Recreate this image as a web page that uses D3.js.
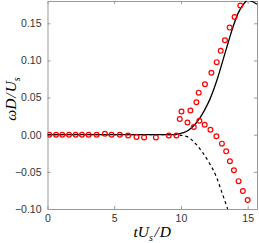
<!DOCTYPE html>
<html>
<head>
<meta charset="utf-8">
<script src="https://cdn.jsdelivr.net/npm/d3@7"></script>
<style>
  body { margin: 0; background: #fff; }
  svg { display: block; }
</style>
</head>
<body>
<div id="chart"></div>
<script>
// values: [t, omega]
const flatPts = [[0.13,0],[0.64,0],[1.11,0],[1.61,0],[2.11,0],[2.58,0],[3.08,0],[3.68,0],
  [4.30,0.0013],[4.80,0],[5.42,0],[6.04,-0.001],[6.67,-0.003],[7.24,-0.0036],[8.12,-0.0036],
  [9.09,-0.001],[9.66,-0.001]];
const upperPts = [[10.04,0.0312],[10.71,0.0325],[11.16,0.0438],[11.33,0.0566],[11.80,0.0679],
  [12.28,0.0834],[12.68,0.0977],[12.98,0.1129],[13.30,0.1272],[13.65,0.1442],[14.02,0.1584],[14.45,0.1740]];
const lowerPts = [[9.91,0.021],[10.49,0.0165],[10.96,0.0103],[11.38,0.0187],[11.78,0.0134],
  [12.21,0.0067],[12.66,-0.002],[13.07,-0.012],[13.39,-0.0224],[13.67,-0.0357],[13.97,-0.0478],
  [14.32,-0.0625],[14.64,-0.0759],[15.0,-0.088]];
const solidLine = [[0,0],[9.5,0],[9.78,0.001],[10.41,0.0044],[10.9,0.011],[11.41,0.0224],
  [11.78,0.0335],[12.15,0.0469],[12.70,0.0736],[13.15,0.1004],[13.52,0.1228],[13.90,0.145],
  [14.27,0.163],[14.64,0.1745],[15.02,0.181],[15.39,0.179],[15.7,0.1755]];
const dashedLine = [[0,0],[9.5,0],[10.41,-0.0023],[11.16,-0.0134],[11.63,-0.0241],[12.15,-0.0388],
  [12.66,-0.0569],[13.07,-0.0776],[13.5,-0.1]];
const xTicks = [0, 5, 10, 15];
const yTicks = [-0.10, -0.05, 0.00, 0.05, 0.10, 0.15];

const width = 259, height = 243;
const margin = { top: 1, right: 2, bottom: 34, left: 47.5 };

const svg = d3.select("#chart")
  .append("svg")
  .attr("width", width)
  .attr("height", height);

const x = d3.scaleLinear().domain([0, 15.7]).range([margin.left, width - margin.right]);
const y = d3.scaleLinear().domain([-0.10, 0.18]).range([height - margin.bottom, margin.top]);

const axisColor = "#999";

// clip so the curves stay inside the box
svg.append("clipPath").attr("id", "clip")
  .append("rect")
  .attr("x", x(0)).attr("y", y(0.18))
  .attr("width", x(15.7) - x(0)).attr("height", y(-0.10) - y(0.18));

// axes (ticks inward, box on all sides)
const gx = svg.append("g")
  .attr("transform", `translate(0,${y(-0.10)})`)
  .call(d3.axisBottom(x).tickValues(xTicks).tickSizeInner(-3).tickSizeOuter(0).tickPadding(6));
const gxTop = svg.append("g")
  .attr("transform", `translate(0,${y(0.18)})`)
  .call(d3.axisTop(x).tickValues(xTicks).tickSizeInner(-3).tickSizeOuter(0).tickFormat(""));
const gy = svg.append("g")
  .attr("transform", `translate(${x(0)},0)`)
  .call(d3.axisLeft(y).tickValues(yTicks).tickSizeInner(-3).tickSizeOuter(0).tickPadding(6)
    .tickFormat(d3.format(".2f")));
const gyRight = svg.append("g")
  .attr("transform", `translate(${x(15.7)},0)`)
  .call(d3.axisRight(y).tickValues(yTicks).tickSizeInner(-3).tickSizeOuter(0).tickFormat(""));

[gx, gxTop, gy, gyRight].forEach(g => {
  g.select(".domain").attr("stroke", axisColor);
  g.selectAll(".tick line").attr("stroke", axisColor);
  g.selectAll("text")
    .attr("fill", "#333")
    .attr("font-family", "Liberation Sans, Arial, sans-serif")
    .attr("font-size", "10.5px");
});

const plot = svg.append("g").attr("clip-path", "url(#clip)");

const line = d3.line()
  .x(d => x(d[0]))
  .y(d => y(d[1]))
  .curve(d3.curveMonotoneX);

plot.append("path")
  .datum(dashedLine)
  .attr("d", line)
  .attr("fill", "none")
  .attr("stroke", "#000")
  .attr("stroke-width", 1.2)
  .attr("stroke-dasharray", "3,3");

plot.append("path")
  .datum(solidLine)
  .attr("d", line)
  .attr("fill", "none")
  .attr("stroke", "#000")
  .attr("stroke-width", 1.3);

// markers
plot.selectAll("circle.pt")
  .data(flatPts.concat(upperPts, lowerPts))
  .enter()
  .append("circle")
  .attr("class", "pt")
  .attr("cx", d => x(d[0]))
  .attr("cy", d => y(d[1]))
  .attr("r", 2.4)
  .attr("fill", "none")
  .attr("stroke", "#f00")
  .attr("stroke-width", 1.2);

// axis labels
const labelFont = "Liberation Serif, Times New Roman, serif";
const xl = svg.append("text")
  .attr("x", (x(0) + x(15.7)) / 2)
  .attr("y", 237)
  .attr("text-anchor", "middle")
  .attr("font-family", labelFont)
  .attr("font-style", "italic")
  .attr("font-size", "15.5px")
  .attr("fill", "#000");
xl.append("tspan").text("tU");
xl.append("tspan").attr("font-size", "10px").attr("dy", 3.5).text("s");
xl.append("tspan").attr("dy", -3.5).attr("dx", 1.5).text("/");
xl.append("tspan").attr("dx", 1).text("D");

const yl = svg.append("text")
  .attr("transform", `translate(16,${(y(-0.10) + y(0.18)) / 2 - 6}) rotate(-90)`)
  .attr("text-anchor", "middle")
  .attr("font-family", labelFont)
  .attr("font-style", "italic")
  .attr("font-size", "15.5px")
  .attr("fill", "#000");
yl.append("tspan").text("ωD");
yl.append("tspan").attr("dx", 1).text("/");
yl.append("tspan").attr("dx", 1).text("U");
yl.append("tspan").attr("font-size", "10px").attr("dy", 3.5).text("s");
</script>
</body>
</html>
